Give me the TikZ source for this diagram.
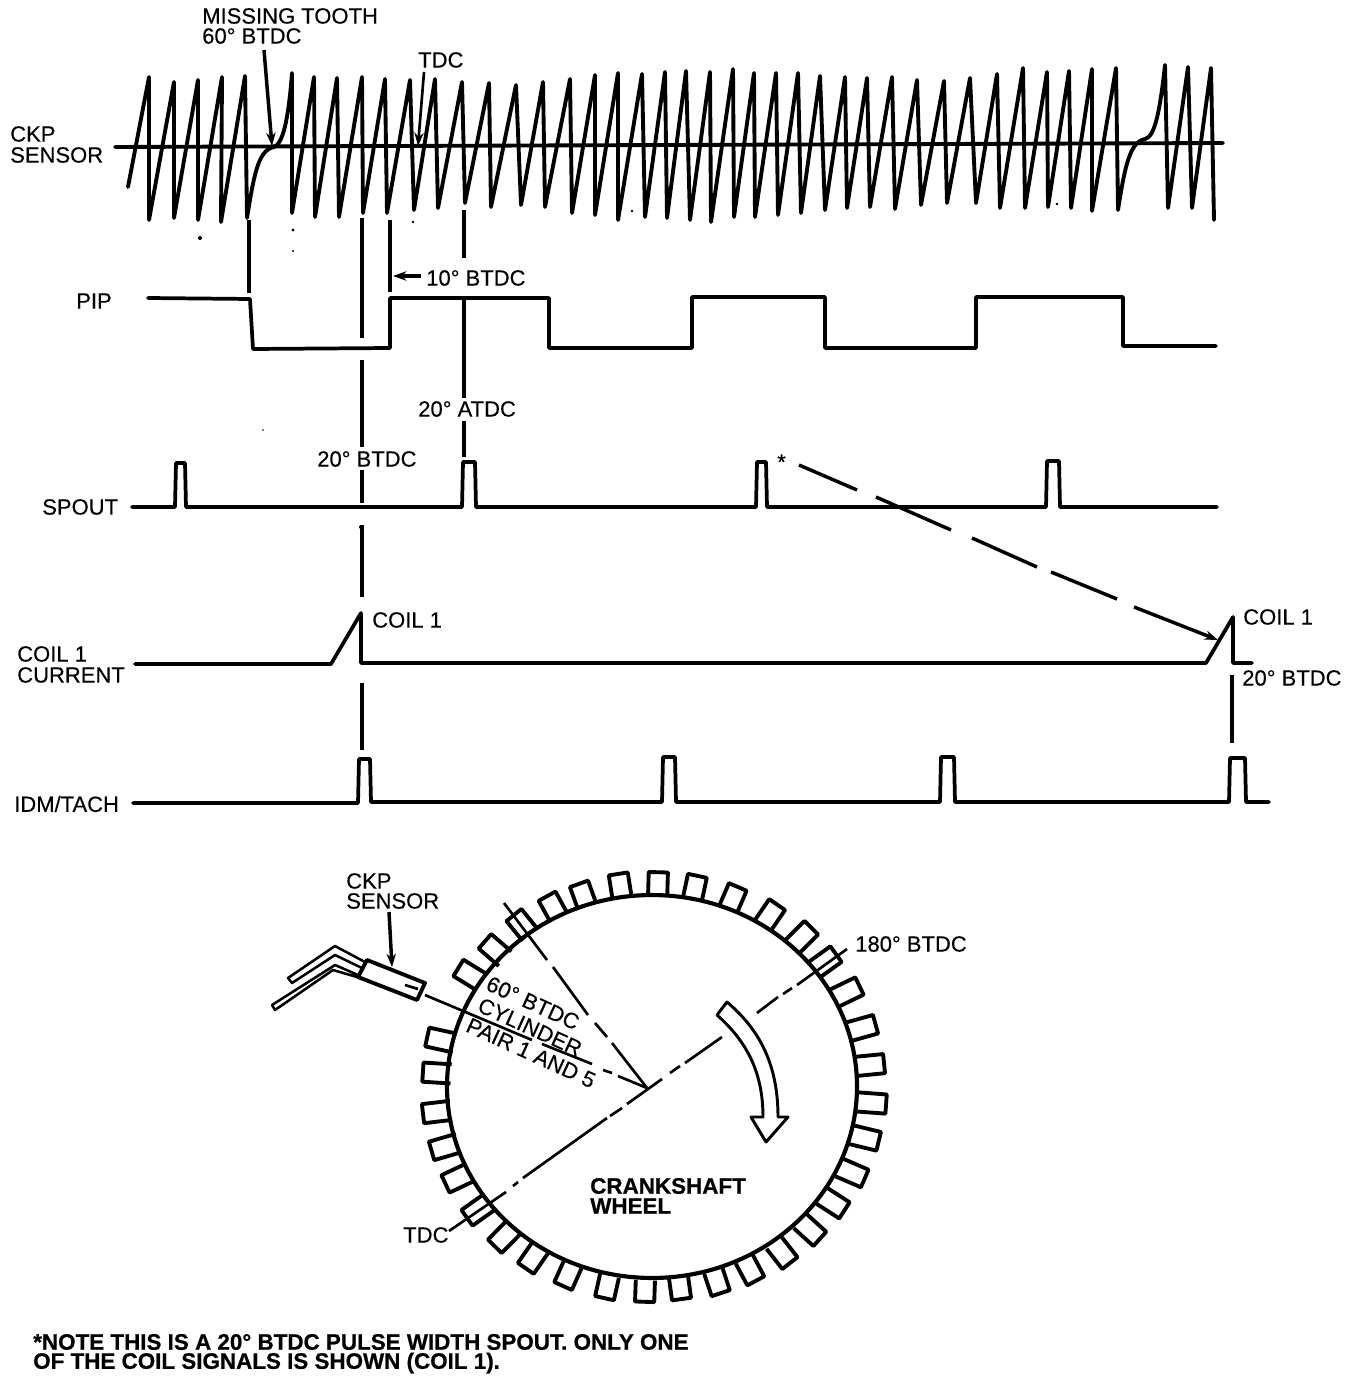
\documentclass[tikz,border=0pt]{standalone}
\usepackage{fontspec}
\setmainfont{Liberation Sans}[FakeBold=0.3,BoldFeatures={FakeBold=0.7}]
\usetikzlibrary{arrows.meta}
\tikzset{
  x=0.75pt,y=-0.75pt,
  trace/.style={line width=2.8pt,line join=round,line cap=round},
  wave/.style={line width=2.9pt,line join=round,line cap=round},
  cursor/.style={line width=2.6pt,line cap=butt},
  wheelline/.style={line width=2.9pt,line join=round},
  thin line/.style={line width=2pt,line cap=butt},
  lbl/.style={anchor=west,inner sep=0pt,font=\fontsize{16.5}{18}\selectfont},
  bld/.style={anchor=west,inner sep=0pt,font=\fontsize{16.8}{18}\selectfont\bfseries},
  rot/.style={anchor=center,inner sep=0pt,rotate=-24.5,font=\fontsize{16.5}{18}\selectfont},
  tip/.style={-{Stealth[length=10pt,width=7pt]}},
  speck/.style={fill=black,draw=none}
}
\begin{document}
\begin{tikzpicture}
\path[fill=white,use as bounding box] (0,0) rectangle (1360,1380);

% ---- labels ----
\node[lbl] (lmiss) at (202,16) {MISSING TOOTH};
\node[lbl] (lsixty) at (202,36) {60° BTDC};
\node[lbl] (ltdc) at (418,60) {TDC};
\node[lbl] (lckp) at (10,134) {CKP};
\node[lbl] (lsensor) at (10,155) {SENSOR};
\node[lbl] (lpip) at (76,301) {PIP};
\node[lbl] (lten) at (426,278) {10° BTDC};
\node[lbl] (latdc) at (418,409) {20° ATDC};
\node[lbl] (lbtdc) at (317,459) {20° BTDC};
\node[lbl] (lspout) at (42,507) {SPOUT};
\node[lbl] (lstar) at (777,462) {*};
\node[lbl] (lcoila) at (372,620) {COIL 1};
\node[lbl] (lcoilb) at (1243,617) {COIL 1};
\node[lbl] (lbtdcb) at (1242,678) {20° BTDC};
\node[lbl] (lcoilc) at (17,654) {COIL 1};
\node[lbl] (lcurrent) at (17,675) {CURRENT};
\node[lbl] (lidm) at (14,804) {IDM/TACH};
\node[lbl] (lckpb) at (346,881) {CKP};
\node[lbl] (lsensorb) at (346,901) {SENSOR};
\node[lbl] (loneeighty) at (855,944) {180° BTDC};
\node[lbl] (ltdcb) at (403,1235) {TDC};
\node[bld] (lcrank) at (590,1186) {CRANKSHAFT};
\node[bld] (lwheel) at (590,1206) {WHEEL};
\node[bld] (lnotea) at (33,1342) {*NOTE THIS IS A 20° BTDC PULSE WIDTH SPOUT. ONLY ONE};
\node[bld] (lnoteb) at (33,1363) {OF THE COIL SIGNALS IS SHOWN (COIL 1).};
\node[rot] (lw1) at (533,1003) {60° BTDC};
\node[rot] (lw2) at (530,1027) {CYLINDER};
\node[rot] (lw3) at (531,1053) {PAIR 1 AND 5};

% ---- CKP waveform ----
\draw[wave] (115,147) -- (1223,143);
\draw[wave] (128,187) -- (149,77) -- (149,220) -- (174,82) -- (174,218) -- (198,80) -- (198,220)
 -- (222,77) -- (221,222) -- (245,76) -- (247,218)
 .. controls (254,175) and (258,150) .. (274,147)
 .. controls (282,144) and (288,125) .. (292,73)
 -- (292,213) -- (314,77) -- (315,217) -- (337,78) -- (339,217) -- (362,77) -- (363,213)
 -- (385,79) -- (387,213) -- (410,80) -- (414,210) -- (435,79) -- (438,208) -- (462,82) -- (465,203)
 -- (489,83) -- (491,207) -- (516,85) -- (521,205) -- (543,82) -- (545,207) -- (570,79) -- (572,213)
 -- (595,75) -- (595,215) -- (618,73) -- (618,220) -- (642,74) -- (645,217) -- (665,72) -- (667,218)
 -- (686,71) -- (690,220) -- (710,72) -- (711,222) -- (733,69) -- (734,217) -- (754,73) -- (755,217)
 -- (776,73) -- (778,215) -- (798,73) -- (801,213) -- (820,76) -- (825,210) -- (845,77) -- (847,208)
 -- (867,78) -- (870,207) -- (892,77) -- (895,209) -- (917,80) -- (921,205) -- (944,81) -- (947,203)
 -- (970,78) -- (976,203) -- (997,74) -- (1000,208) -- (1023,68) -- (1025,208) -- (1047,72) -- (1048,207)
 -- (1069,71) -- (1071,208) -- (1092,69) -- (1092,211) -- (1116,68) -- (1118,210)
 .. controls (1125,165) and (1130,142) .. (1145,139)
 .. controls (1155,137) and (1160,110) .. (1165,65)
 -- (1168,208) -- (1188,67) -- (1192,208) -- (1211,68) -- (1214,220);

% arrows to the waveform
\coordinate (missfrom) at (264,50);
\coordinate (missto) at (272,146);
\draw[cursor,tip] (missfrom) -- (missto);
\coordinate (tdcfrom) at (424,72);
\coordinate (tdcto) at (418,146);
\draw[thin line,tip] (tdcfrom) -- (tdcto);

% ---- PIP ----
\draw[trace] (148,298) -- (250,299) -- (253,349) -- (390,348) -- (390,298) -- (549,298) -- (549,348)
 -- (692,348) -- (692,297) -- (825,297) -- (825,348) -- (976,348) -- (976,297) -- (1123,297)
 -- (1123,346) -- (1216,346);

% ---- SPOUT ----
\draw[trace] (132,507) -- (175,507) -- (176,463) -- (185,463) -- (186,507) -- (462,507) -- (463,462)
 -- (475,462) -- (476,507) -- (756,507) -- (757,462) -- (766,462) -- (767,507) -- (1046,507)
 -- (1047,461) -- (1059,461) -- (1060,507) -- (1217,507);

% ---- COIL 1 current ----
\draw[trace] (135,664) -- (331,664) -- (361,613) -- (361,663) -- (1206,663) -- (1233,617) -- (1233,663) -- (1252,663);

% ---- IDM/TACH ----
\draw[trace] (133,803) -- (358,803) -- (359,759) -- (370,759) -- (371,802) -- (662,802) -- (663,757)
 -- (675,757) -- (676,802) -- (940,802) -- (941,757) -- (954,757) -- (955,802) -- (1229,802)
 -- (1230,758) -- (1245,758) -- (1246,802) -- (1269,802);

% ---- timing cursors ----
\draw[cursor] (249,220) -- (249,293);
\draw[cursor] (362,218) -- (362,338);
\draw[cursor] (362,360) -- (362,447);
\draw[cursor] (362,470) -- (362,503);
\draw[cursor] (362,525) -- (362,597);
\draw[cursor] (362,683) -- (362,750);
\draw[cursor] (390,220) -- (390,292);
\draw[cursor] (464,210) -- (464,258);
\draw[cursor] (464,300) -- (464,398);
\draw[cursor] (464,421) -- (464,457);
\draw[cursor] (1232,675) -- (1232,743);
\coordinate (tenfrom) at (421,276);
\coordinate (tento) at (393,276);
\draw[cursor,tip] (tenfrom) -- (tento);

% ---- dashed arrow from spout to coil ----
\draw[cursor] (799,465) -- (857,490);
\draw[cursor] (876,497) -- (951,530);
\draw[cursor] (972,538) -- (1037,567);
\draw[cursor] (1051,572) -- (1117,599);
\coordinate (dashfrom) at (1134,607);
\coordinate (dashto) at (1218,640);
\draw[cursor,tip] (dashfrom) -- (dashto);

% ---- specks ----
\foreach \sx/\sy/\sr in {200/238/1.5,293/230/1.2,293/251/0.8,263/430/0.7,361/527/1.5,413/222/1,632/211/1,1057/204/1}{
  \fill[speck] (\sx,\sy) circle[radius=\sr pt];
}

% ---- crankshaft wheel ----
\foreach \tx/\ty in {658/883,695/887,733/898,770/915,802/937,825/962,847/992,862/1028,870/1065,872/1103,
  865/1138,852/1173,833/1203,810/1230,782/1253,750/1270,717/1282,680/1288,645/1291,607/1287,568/1275,
  533/1258,504/1237,478/1210,458/1178,445/1147,437/1112,437/1073,441/1040,470/975,495/950,522/925,
  553/907,583/895,620/885}{
  \pgfmathsetmacro\ang{atan2(-(\ty-1086.5),\tx-652)}
  \pgfmathsetmacro\hd{8+2.6*abs(cos(\ang))}
  \draw[wheelline,shift={(\tx,\ty)},rotate=\ang] (-\hd pt,-7.2pt) -- (\hd pt,-7.2pt) -- (\hd pt,7.2pt) -- (-\hd pt,7.2pt);
}
\draw[line width=3.1pt] (652,1086.5) ellipse[x radius=153.75pt,y radius=143.6pt];

% radial reference lines
\draw[thin line] (449,1231) -- (506,1192);
\draw[thin line] (513,1186) -- (518,1182);
\draw[thin line] (523,1178) -- (607,1118);
\draw[thin line] (610,1116) -- (622,1108);
\draw[thin line] (627,1104) -- (662,1079);
\draw[thin line] (670,1073) -- (680,1066);
\draw[thin line] (685,1063) -- (722,1037);
\draw[thin line] (757,1013) -- (778,997);
\draw[thin line] (783,994) -- (792,988);
\draw[thin line] (797,985) -- (847,949);

\draw[thin line] (425,995) -- (532,1040);
\draw[thin line] (542,1044) -- (592,1064);
\draw[thin line] (603,1070) -- (612,1073);
\draw[thin line] (618,1076) -- (647,1088);

\draw[thin line] (504,903) -- (547,960);
\draw[thin line] (553,967) -- (588,1015);
\draw[thin line] (595,1023) -- (607,1037);
\draw[thin line] (612,1043) -- (647,1088);

% rotation arrow
\draw[wheelline,line width=2.2pt,fill=white] (727,1002) .. controls (760,1030) and (778,1065) .. (778,1117)
 -- (788,1117) -- (766,1142) -- (751,1117) -- (763,1117)
 .. controls (763,1070) and (745,1040) .. (717,1015) -- cycle;

% ---- sensor ----
\draw[wheelline] (367,960) -- (425,983) -- (417,1000) -- (358,977) -- cycle;
\draw[thin line] (405,985) -- (418,989);
\draw[line width=1.9pt,line join=round] (365,962) -- (335,946) -- (288,978) -- (292,983) -- (335,955) -- (362,968);
\draw[line width=1.9pt,line join=round] (358,975) -- (335,965) -- (272,1005) -- (275,1010) -- (333,970) -- (357,977);
\coordinate (sensfrom) at (389,912);
\coordinate (sensto) at (392,967);
\draw[cursor,tip] (sensfrom) -- (sensto);
\end{tikzpicture}
\end{document}
